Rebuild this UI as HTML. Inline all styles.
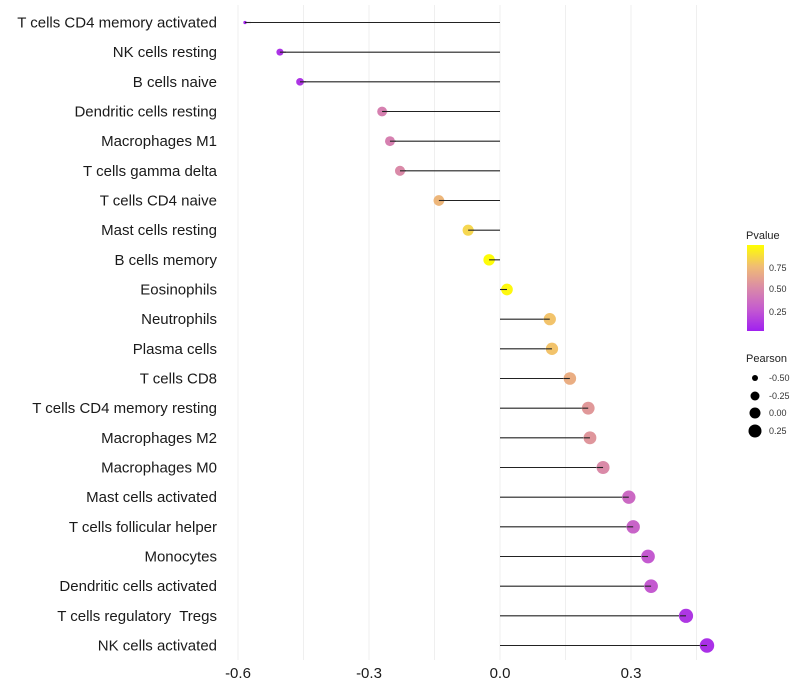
<!DOCTYPE html>
<html><head><meta charset="utf-8"><style>
body{margin:0;background:#fff;}
svg{display:block;font-family:"Liberation Sans",sans-serif;}
</style></head><body>
<svg id="chart" width="800" height="700">
<defs><linearGradient id="pg" x1="0" y1="1" x2="0" y2="0">
<stop offset="0" stop-color="#A020F0"/><stop offset="0.25" stop-color="#C45AD0"/><stop offset="0.5" stop-color="#DA8AA8"/><stop offset="0.75" stop-color="#F0BC74"/><stop offset="1" stop-color="#FFFF00"/>
</linearGradient></defs>
<g id="grid"></g>
<g id="marks"></g>
<g id="ylabels"></g>
<g id="xlabels"></g>
<g>
<text x="746" y="239" font-size="11" fill="#222">Pvalue</text>
<rect x="747" y="245" width="17" height="86" fill="url(#pg)"/>
<text x="769" y="271" font-size="9" fill="#333">0.75</text>
<text x="769" y="292" font-size="9" fill="#333">0.50</text>
<text x="769" y="315" font-size="9" fill="#333">0.25</text>
</g>
<g>
<text x="746" y="362" font-size="11" fill="#222">Pearson</text>
<circle cx="755" cy="378" r="3" fill="#000"/>
<circle cx="755" cy="396" r="4.5" fill="#000"/>
<circle cx="755" cy="413" r="5.5" fill="#000"/>
<circle cx="755" cy="431" r="6.5" fill="#000"/>
<text x="769" y="381" font-size="9" fill="#333">-0.50</text>
<text x="769" y="399" font-size="9" fill="#333">-0.25</text>
<text x="769" y="416" font-size="9" fill="#333">0.00</text>
<text x="769" y="434" font-size="9" fill="#333">0.25</text>
</g>
</svg>
<script>
const categories=["T cells CD4 memory activated","NK cells resting","B cells naive","Dendritic cells resting","Macrophages M1","T cells gamma delta","T cells CD4 naive","Mast cells resting","B cells memory","Eosinophils","Neutrophils","Plasma cells","T cells CD8","T cells CD4 memory resting","Macrophages M2","Macrophages M0","Mast cells activated","T cells follicular helper","Monocytes","Dendritic cells activated","T cells regulatory  Tregs","NK cells activated"];
const pearson=[-0.584,-0.504,-0.458,-0.270,-0.252,-0.229,-0.140,-0.073,-0.025,0.016,0.114,0.119,0.160,0.202,0.206,0.236,0.295,0.305,0.339,0.346,0.426,0.474];
const pvalues=[0.03,0.08,0.09,0.45,0.45,0.5,0.72,0.87,0.99,0.98,0.78,0.78,0.68,0.57,0.56,0.5,0.33,0.3,0.25,0.25,0.1,0.07];
const xTicks=[-0.6,-0.3,0.0,0.3];
const xTickLabels=["-0.6","-0.3","0.0","0.3"];
const NS="http://www.w3.org/2000/svg";
const x=v=>500+v*(131/0.3);
const y=i=>22.5+i*(623/21);
const knots=[[-0.6,1.3],[-0.5,3.6],[-0.27,4.9],[0.1,6.1],[0.5,7.3]];
function rad(v){for(let k=1;k<knots.length;k++){if(v<=knots[k][0]){const a=knots[k-1],b=knots[k];return a[1]+(b[1]-a[1])*(v-a[0])/(b[0]-a[0]);}}return 7.3;}
const stops=[[0,[160,32,240]],[0.25,[196,90,208]],[0.5,[218,138,168]],[0.75,[240,188,116]],[0.9,[248,222,72]],[1,[255,255,0]]];
function col(p){for(let k=1;k<stops.length;k++){if(p<=stops[k][0]){const a=stops[k-1],b=stops[k],t=(p-a[0])/(b[0]-a[0]);return "rgb("+a[1].map((c,j)=>Math.round(c+(b[1][j]-c)*t)).join(",")+")";}}return "rgb(255,255,0)";}
function mk(t,a,parent){const e=document.createElementNS(NS,t);for(const k in a)e.setAttribute(k,a[k]);parent.appendChild(e);return e;}
const grid=document.getElementById('grid'),marks=document.getElementById('marks'),yl=document.getElementById('ylabels'),xl=document.getElementById('xlabels');
for(let v=-0.6;v<=0.46;v+=0.15){const g=mk('line',{x1:x(v),x2:x(v),y1:5,y2:660,stroke:'#efefef','stroke-width':1},grid);

}
categories.forEach((c,i)=>{
const s=mk('line',{x1:x(0),x2:x(pearson[i]),y1:y(i),y2:y(i),stroke:'#222','stroke-width':1.1},marks);


const p=mk('circle',{cx:x(pearson[i]),cy:y(i),r:rad(pearson[i]),fill:col(pvalues[i])},marks);


const s2=mk('line',{x1:x(pearson[i]),x2:x(pearson[i])+(pearson[i]<0?6:-6),y1:y(i),y2:y(i),stroke:'#222','stroke-width':1.1},marks);


const t=mk('text',{x:217,y:y(i)+5,'text-anchor':'end','font-size':15,fill:'#1a1a1a',style:'white-space:pre'},yl);t.textContent=c;


});
xTicks.forEach((v,i)=>{const t=mk('text',{x:x(v),y:678,'text-anchor':'middle','font-size':15,fill:'#1a1a1a'},xl);t.textContent=xTickLabels[i];

});
</script>
</body></html>
